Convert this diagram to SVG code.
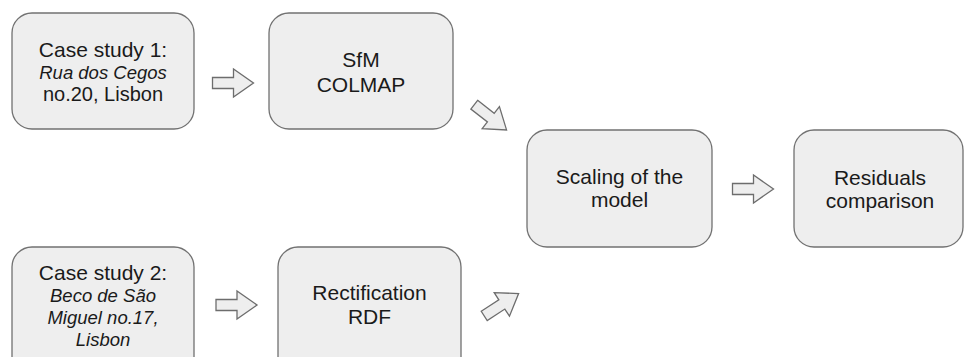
<svg xmlns="http://www.w3.org/2000/svg" width="965" height="357" viewBox="0 0 965 357">
<defs>
<style>
.box{fill:#eeeeee;stroke:#717171;stroke-width:1.3}
.t{font-family:"Liberation Sans",Arial,sans-serif;font-size:21px;fill:#1a1a1a;text-anchor:middle}
.i{font-style:italic;font-size:18.5px}
.s{font-size:20px}
.arr{fill:#eeeeee;stroke:#6d6d6d;stroke-width:1.3;stroke-linejoin:miter}
</style>
<path id="ar" d="M-20,-5.5 H1 V-14 L21,0 L1,14 V5.5 H-20 Z"/>
</defs>
<rect width="965" height="357" fill="#ffffff"/>
<g id="case1">
<rect class="box" x="12" y="13" width="182" height="116" rx="20"/>
<text class="t" x="103" y="57">Case study 1:</text>
<text class="t i" x="103" y="79">Rua dos Cegos</text>
<text class="t s" x="103" y="101">no.20, Lisbon</text>
</g>
<g id="sfm">
<rect class="box" x="269" y="13" width="184" height="116" rx="20"/>
<text class="t" x="361" y="67">SfM</text>
<text class="t" x="361" y="92">COLMAP</text>
</g>
<g id="case2">
<rect class="box" x="12" y="247" width="182" height="130" rx="20"/>
<text class="t" x="103" y="280">Case study 2:</text>
<text class="t i" x="103" y="302">Beco de São</text>
<text class="t i" x="103" y="324">Miguel no.17,</text>
<text class="t i" x="103" y="346">Lisbon</text>
</g>
<g id="rect">
<rect class="box" x="278" y="247" width="183" height="130" rx="20"/>
<text class="t" x="369.5" y="300">Rectification</text>
<text class="t" x="369.5" y="324">RDF</text>
</g>
<g id="scaling">
<rect class="box" x="527" y="130" width="185" height="117" rx="20"/>
<text class="t" x="619.5" y="184">Scaling of the</text>
<text class="t" x="619.5" y="207">model</text>
</g>
<g id="residuals">
<rect class="box" x="794" y="130" width="169" height="117" rx="20"/>
<text class="t" x="880" y="185">Residuals</text>
<text class="t" x="880" y="208">comparison</text>
</g>
<g id="connectors">
<use href="#ar" class="arr" transform="translate(232.5,83)"/>
<use href="#ar" class="arr" transform="translate(236,305)"/>
<use href="#ar" class="arr" transform="translate(752.5,189)"/>
<use href="#ar" class="arr" transform="translate(490,117) rotate(38)"/>
<use href="#ar" class="arr" transform="translate(501,305) rotate(-33)"/>
</g>
</svg>
